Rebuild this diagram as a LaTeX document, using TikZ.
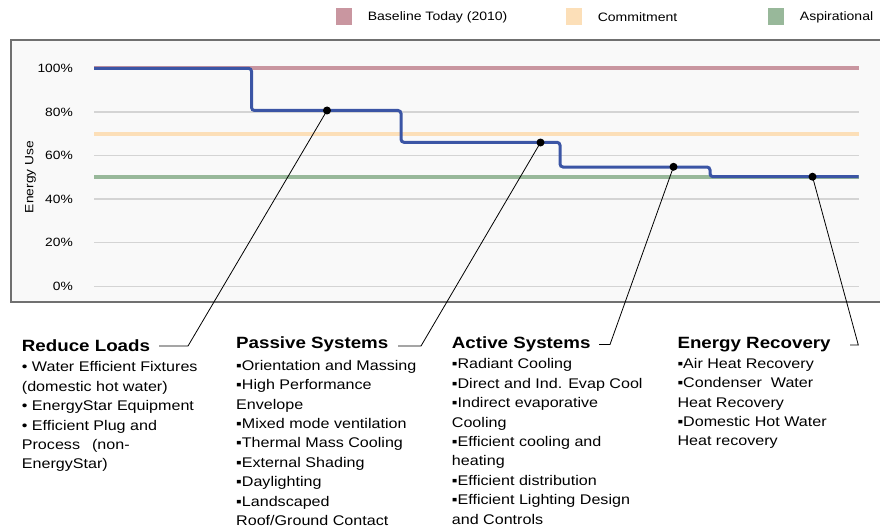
\documentclass[tikz,border=0pt]{standalone}
\usepackage{fontspec}
\setmainfont[FakeStretch=1.15]{Liberation Sans}
\definecolor{basepink}{HTML}{C996A0}
\definecolor{commitorange}{HTML}{FCDFB8}
\definecolor{aspgreen}{HTML}{98B89A}
\definecolor{stepblue}{HTML}{3B55A5}
\definecolor{gridgray}{HTML}{D4D4D4}
\definecolor{framegray}{HTML}{707070}
\definecolor{chartbg}{HTML}{F9F9F9}
\tikzset{
  gridline/.style={gridgray, line width=1.4pt},
  axislabel/.style={anchor=east, inner sep=0pt, font=\fontsize{12}{14}\selectfont},
  legsq/.style={minimum width=16pt, minimum height=17pt, inner sep=0pt},
  legtext/.style={anchor=west, inner sep=0pt, font=\fontsize{12.2}{14}\selectfont},
  target/.style={line width=3.8pt},
  stepline/.style={stepblue, line width=3pt, rounded corners=3pt},
  dotmark/.style={circle, fill=black, inner sep=0pt, minimum size=8pt},
  leader/.style={black, line width=0.8pt},
  grouptitle/.style={anchor=base west, inner sep=0pt, font=\bfseries\fontsize{16.3}{19}\selectfont},
  groupbody/.style={anchor=north west, inner sep=0pt, align=left, font=\fontsize{14}{19.4}\selectfont},
}
\begin{document}
\begin{tikzpicture}[x=1pt,y=-1pt]
\useasboundingbox (0,0) rectangle (880,532);
% chart area
\fill[chartbg] (11,40) rectangle (880,302);
\draw[framegray, line width=1.3pt] (880,40) -- (11,40) -- (11,302) -- (880,302);
% gridlines and labels
\foreach \v/\yy in {0/286.3, 20/242.7, 40/199.1, 60/155.5, 80/111.9, 100/68.3}{
  \draw[gridline] (94,\yy) -- (858.5,\yy);
  \node[axislabel] (lab\v) at (73,\yy) {\v\%};
}
\node[rotate=90, inner sep=0pt, font=\fontsize{12}{14}\selectfont] (ylab) at (30.5,177) {Energy Use};
% target lines
\draw[target, basepink] (94,68.3) -- (858.5,68.3);
\draw[target, commitorange] (94,134) -- (858.5,134);
\draw[target, aspgreen] (94,176.7) -- (858.5,176.7);
% step line
\draw[stepline] (94,68.3) -- (251.5,68.3) -- (251.5,110.5) -- (401,110.5) -- (401,142.3)
  -- (560,142.3) -- (560,167) -- (710,167) -- (710,176.7) -- (858.5,176.7);
% dots
\node[dotmark] (d1) at (327,110.5) {};
\node[dotmark] (d2) at (540.5,142.5) {};
\node[dotmark] (d3) at (673.5,166.8) {};
\node[dotmark] (d4) at (812.5,176.7) {};
% legend
\node[legsq, fill=basepink] (lg1) at (344,17) {};
\node[legtext] (lt1) at (367.6,17) {Baseline Today (2010)};
\node[legsq, fill=commitorange] (lg2) at (574,17) {};
\node[legtext] (lt2) at (597.6,17) {Commitment};
\node[legsq, fill=aspgreen] (lg3) at (775.8,17) {};
\node[legtext] (lt3) at (799.7,17) {Aspirational};
% group titles
\node[grouptitle] (t1) at (21.7,351) {Reduce Loads};
\node[grouptitle] (t2) at (236,348.5) {Passive Systems};
\node[grouptitle] (t3) at (451.7,348.5) {Active Systems};
\node[grouptitle] (t4) at (677.3,348.5) {Energy Recovery};
% group bodies
\node[groupbody] (g1) at (21.7,361.5) {• Water Efficient Fixtures\\(domestic hot water)\\• EnergyStar Equipment\\• Efficient Plug and\\Process\hspace{12pt}(non-\\EnergyStar)};
\node[groupbody] (g2) at (236,360) {▪Orientation and Massing\\▪High Performance\\Envelope\\▪Mixed mode ventilation\\▪Thermal Mass Cooling\\▪External Shading\\▪Daylighting\\▪Landscaped\\Roof/Ground Contact};
\node[groupbody] (g3) at (451.7,358.5) {▪Radiant Cooling\\▪Direct and Ind. Evap Cool\\▪Indirect evaporative\\Cooling\\▪Efficient cooling and\\heating\\▪Efficient distribution\\▪Efficient Lighting Design\\and Controls};
\node[groupbody] (g4) at (677.3,358) {▪Air Heat Recovery\\▪Condenser\ \ Water\\Heat Recovery\\▪Domestic Hot Water\\Heat recovery};
% leader lines
\coordinate (b1) at (188,346);  \coordinate (e1) at (159,346);
\coordinate (b2) at (421,346);  \coordinate (e2) at (398,346);
\coordinate (b3) at (610,344.5);  \coordinate (e3) at (599,344.5);
\coordinate (b4) at (858.3,345);  \coordinate (e4) at (850,345);
\draw[leader] (d1.center) -- (b1) -- (e1);
\draw[leader] (d2.center) -- (b2) -- (e2);
\draw[leader] (d3.center) -- (b3) -- (e3);
\draw[leader] (d4.center) -- (b4) -- (e4);
\end{tikzpicture}
\end{document}
